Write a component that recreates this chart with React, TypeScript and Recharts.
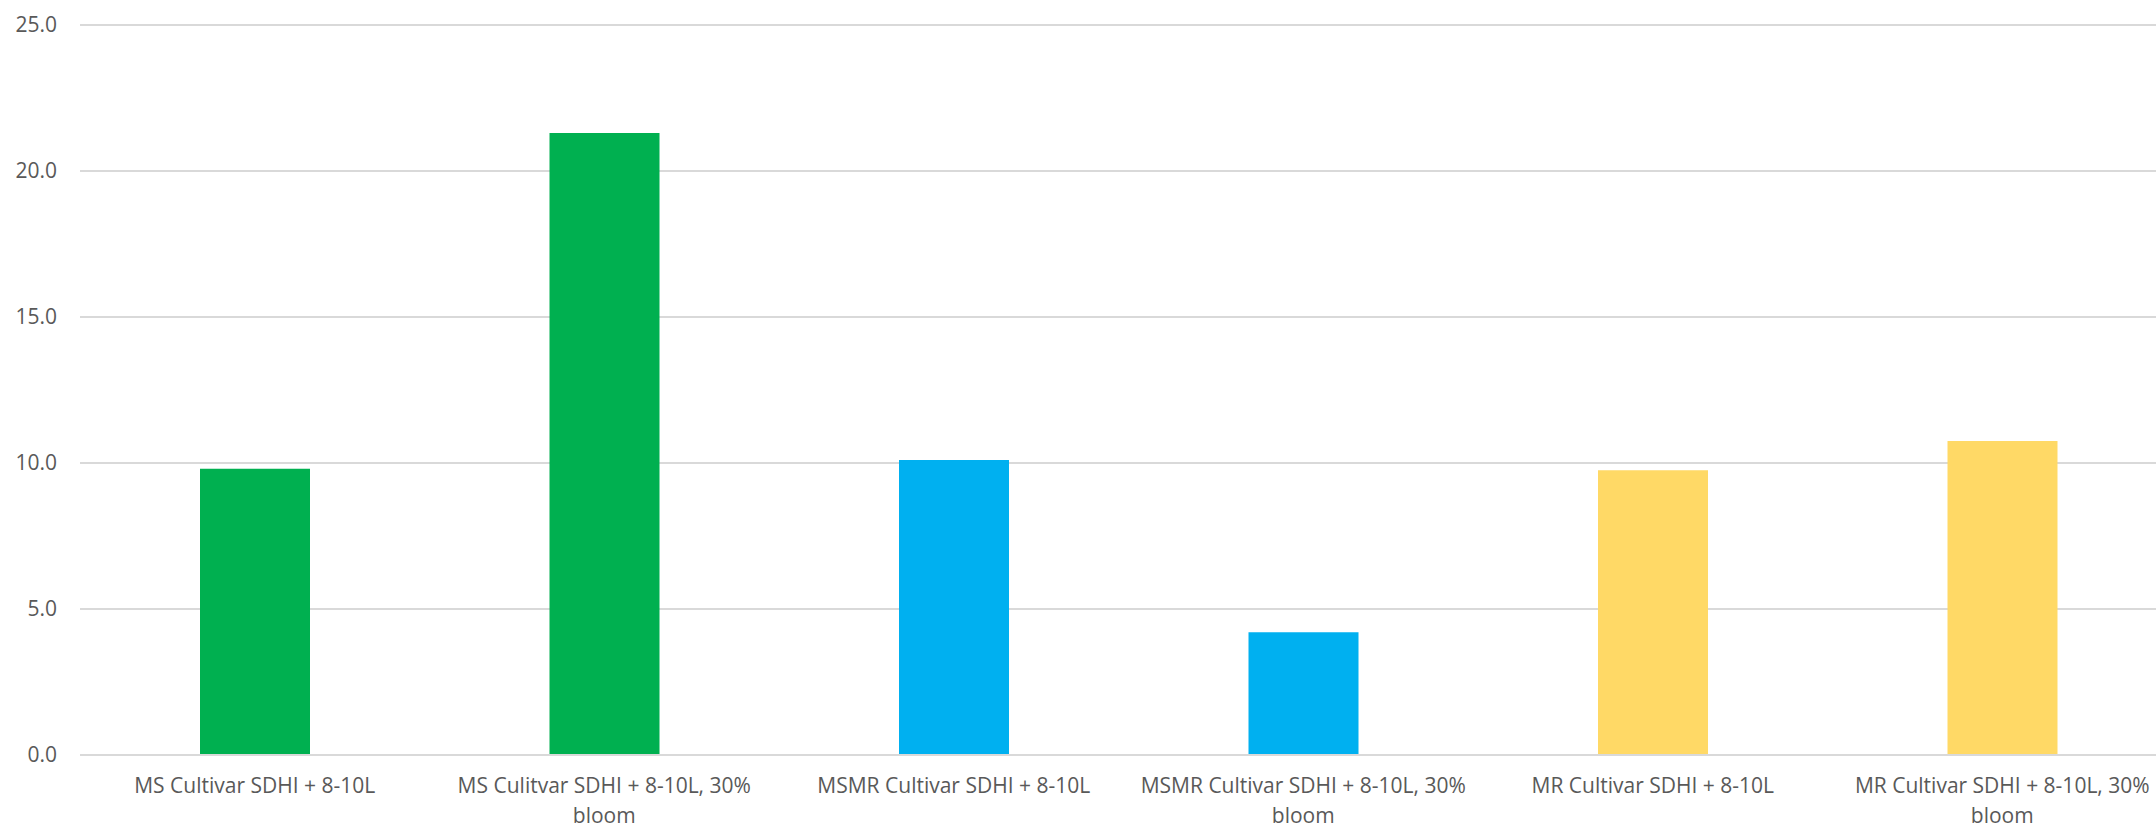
import React from 'react';
import { BarChart, Bar, XAxis, YAxis, CartesianGrid, Cell } from 'recharts';

const categories = [
  'MS Cultivar SDHI + 8-10L',
  'MS Culitvar SDHI + 8-10L, 30% bloom',
  'MSMR Cultivar SDHI + 8-10L',
  'MSMR Cultivar SDHI + 8-10L, 30% bloom',
  'MR Cultivar SDHI + 8-10L',
  'MR Cultivar SDHI + 8-10L, 30% bloom',
];
const values = [9.8, 21.3, 10.1, 4.2, 9.75, 10.75];
const barColors = ['#00B050', '#00B050', '#00B0F0', '#00B0F0', '#FFD966', '#FFD966'];
const yTicks = [0, 5, 10, 15, 20, 25];

const data = categories.map((c, i) => ({ name: c, value: values[i] }));

const FONT = "'Open Sans', sans-serif";
const FONT_SIZE = 21;
const TEXT_COLOR = '#595959';
const WRAP_WIDTH = 340;

let ctx: CanvasRenderingContext2D | null = null;
function measure(s: string): number {
  if (!ctx) {
    const c = document.createElement('canvas');
    ctx = c.getContext('2d');
  }
  if (!ctx) return s.length * FONT_SIZE * 0.55;
  ctx.font = `${FONT_SIZE}px 'Open Sans'`;
  return ctx.measureText(s).width;
}

function wrap(label: string): string[] {
  const words = label.split(' ');
  const lines: string[] = [];
  let cur = '';
  for (const w of words) {
    const trial = cur ? cur + ' ' + w : w;
    if (cur && measure(trial) > WRAP_WIDTH) {
      lines.push(cur);
      cur = w;
    } else {
      cur = trial;
    }
  }
  if (cur) lines.push(cur);
  return lines;
}

const XTick = (props: any) => {
  const { x, y, payload } = props;
  const lines = wrap(String(payload.value));
  return (
    <text
      x={x}
      y={y}
      textAnchor="middle"
      fill={TEXT_COLOR}
      fontSize={FONT_SIZE}
      fontFamily={FONT}
    >
      {lines.map((l, i) => (
        <tspan key={i} x={x} dy={i === 0 ? 15 : 30}>
          {l}
        </tspan>
      ))}
    </text>
  );
};

export default function App() {
  return (
    <div style={{ position: 'absolute', left: 0, top: 0, width: 2156, height: 826, overflow: 'hidden', background: '#fff' }}>
      <BarChart
        width={2177}
        height={826}
        data={data}
        margin={{ top: 25, right: 0, bottom: 0, left: 0 }}
      >
        <CartesianGrid vertical={false} stroke="#D9D9D9" strokeWidth={2} />
        <XAxis
          dataKey="name"
          interval={0}
          height={71}
          tickSize={0}
          tickMargin={23}
          axisLine={{ stroke: '#D9D9D9', strokeWidth: 2 }}
          tickLine={false}
          tick={<XTick />}
        />
        <YAxis
          domain={[0, 25]}
          ticks={yTicks}
          width={80}
          tickSize={0}
          tickMargin={23}
          axisLine={false}
          tickLine={false}
          tickFormatter={(v: number) => v.toFixed(1)}
          tick={{ fill: TEXT_COLOR, fontSize: FONT_SIZE, fontFamily: FONT }}
        />
        <Bar dataKey="value" barSize={110} isAnimationActive={false}>
          {data.map((d, i) => (
            <Cell key={d.name} fill={barColors[i]} />
          ))}
        </Bar>
      </BarChart>
    </div>
  );
}
